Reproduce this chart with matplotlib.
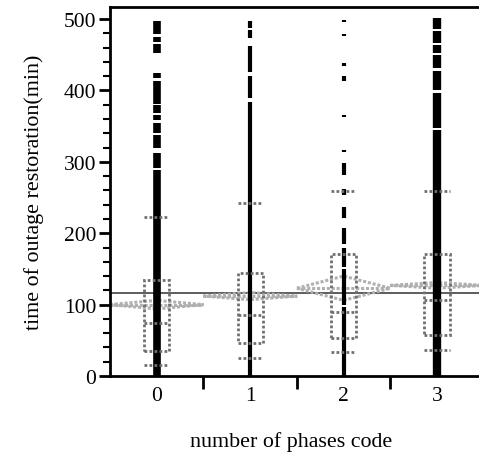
import matplotlib.pyplot as plt
from matplotlib.patches import Polygon, Rectangle

# group codes
codes = [0, 1, 2, 3]
code_labels = ["0", "1", "2", "3"]

# runs of plotted points (dense, so they read as bars) per group, minutes
dots_0 = [(0, 288), (292, 313), (320, 338), (341, 354), (358, 365), (369, 379),
          (381, 414), (417, 424), (452, 465), (468, 475), (479, 497)]
dots_1 = [(0, 384), (389, 420), (426, 463), (474, 485), (487, 497)]
dots_2 = [(0, 97), (100, 150), (153, 180), (185, 208), (222, 237), (254, 262),
          (281, 299), (314, 317), (363, 366), (414, 420), (435, 438), (476, 479),
          (496, 499)]
dots_3 = [(0, 345), (348, 396), (400, 428), (431, 450), (453, 464), (466, 484),
          (486, 501)]
dot_runs = [dots_0, dots_1, dots_2, dots_3]

# quantile boxes
q_low = [35, 46, 53, 57]
q_med = [74, 85, 89, 107]
q_high = [135, 145, 171, 171]
w_low = [15, 25, 33, 37]
w_high = [223, 242, 259, 259]

# means diamonds
means = [100, 112, 123, 127]
ci_half = [6, 5, 17, 4]
grp_left = [-0.5, 0.5, 1.5, 2.5]
grp_right = [0.5, 1.5, 2.5, 3.5]

grand_mean = 117

plt.rcParams["font.family"] = ["Liberation Serif", "DejaVu Serif"]

fig = plt.figure(figsize=(4.79, 4.56), dpi=100)
ax = fig.add_axes([0.2296, 0.1732, 0.7804, 0.8093])

# points
dot_w = [5.5, 3, 3, 6]
for x, runs, lw in zip(codes, dot_runs, dot_w):
    for lo, hi in runs:
        ax.vlines(x, lo, hi, colors="black", linewidth=lw, zorder=3)

# grand mean line
ax.axhline(grand_mean, color="#505050", linewidth=1.3, zorder=2)

# means diamonds
for m, h, xl, xr in zip(means, ci_half, grp_left, grp_right):
    xc = (xl + xr) / 2
    ax.add_patch(Polygon([(xl, m), (xc, m + h), (xr, m), (xc, m - h)], closed=True,
                         fill=False, edgecolor="#b0b0b0", linewidth=2.2,
                         linestyle=(0, (1, 0.6)), zorder=2))
    ax.plot([xl, xr], [m, m], color="#b0b0b0", linewidth=2.2,
            linestyle=(0, (1, 0.6)), zorder=2)

# boxes
bw = 0.27
box_style = dict(color="#707070", linewidth=2, linestyle=(0, (1, 0.8)), zorder=4)
for x, lo, md, hi, wl, wh in zip(codes, q_low, q_med, q_high, w_low, w_high):
    ax.add_patch(Rectangle((x - bw / 2, lo), bw, hi - lo, fill=False,
                           edgecolor="#707070", linewidth=2,
                           linestyle=(0, (1, 0.8)), zorder=4))
    ax.plot([x - bw / 2, x + bw / 2], [md, md], **box_style)
    for w in (wl, wh):
        ax.plot([x - bw / 2, x + bw / 2], [w, w], **box_style)

ax.set_xlim(-0.5, 3.5)
ax.set_ylim(0, 517)

ax.set_yticks([0, 100, 200, 300, 400, 500])
ax.set_yticks(range(0, 501, 20), minor=True)
ax.tick_params(axis="y", which="major", length=8, width=2, labelsize=15.5, pad=2)
ax.tick_params(axis="y", which="minor", length=5, width=1.5)

ax.set_xticks([0.5, 1.5, 2.5])
ax.set_xticklabels([])
ax.tick_params(axis="x", which="major", length=9, width=2)
for x, lab in zip(codes, code_labels):
    ax.text(x, -14, lab, ha="center", va="top", fontsize=15.5)

for s in ax.spines.values():
    s.set_linewidth(2)

ax.set_ylabel("time of outage restoration(min)", fontsize=15.8, labelpad=14)
fig.text(0.608, 0.03, "number of phases code", ha="center", va="center", fontsize=15.8)

plt.savefig("out.png", dpi=100)
